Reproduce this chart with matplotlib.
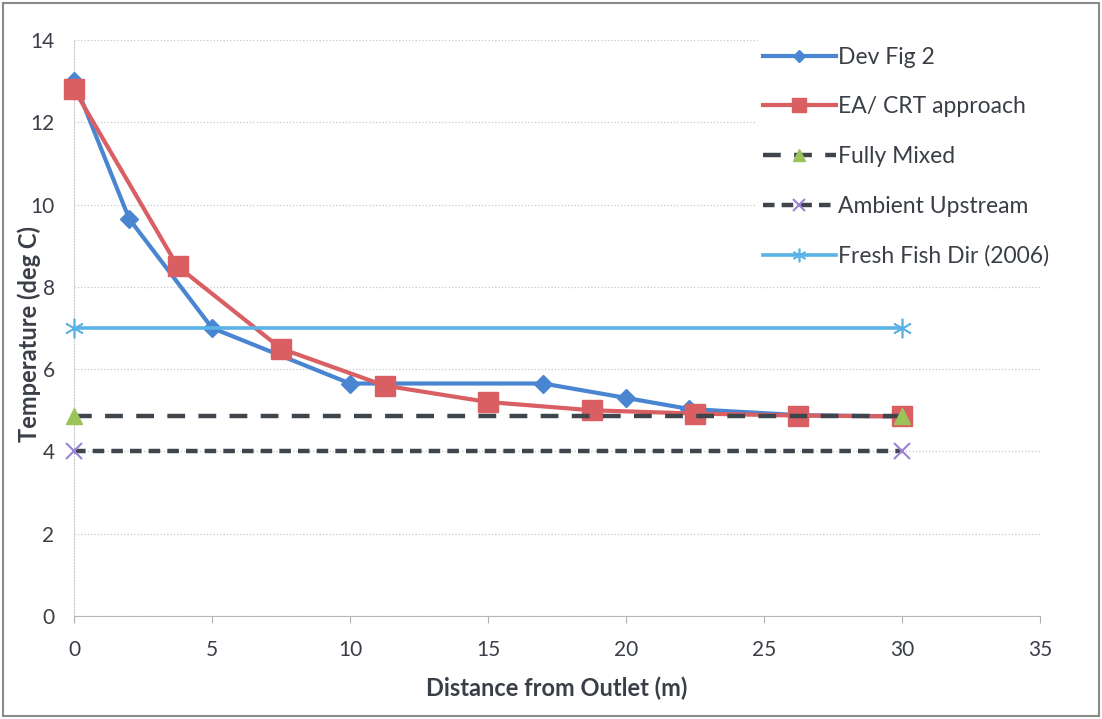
import matplotlib.pyplot as plt
from matplotlib.patches import Rectangle

# values
dev_x = [0, 2, 5, 10, 17, 20, 22.3, 26.3, 30]
dev_y = [13.0, 9.65, 7.0, 5.65, 5.65, 5.3, 5.03, 4.88, 4.85]

ea_x = [0, 3.75, 7.5, 11.25, 15, 18.75, 22.5, 26.25, 30]
ea_y = [12.8, 8.5, 6.5, 5.6, 5.2, 5.0, 4.92, 4.87, 4.85]

ref_x = [0, 30]
mixed_y = [4.85, 4.85]
ambient_y = [4.0, 4.0]
fish_y = [7.0, 7.0]

labels = ["Dev Fig 2", "EA/ CRT approach", "Fully Mixed", "Ambient Upstream", "Fresh Fish Dir (2006)"]
x_ticks = [0, 5, 10, 15, 20, 25, 30, 35]
y_ticks = [0, 2, 4, 6, 8, 10, 12, 14]

plt.rcParams['font.family'] = ['Lato', 'DejaVu Sans']

fig = plt.figure(figsize=(11.02, 7.19), dpi=100)
ax = fig.add_axes([0.0672, 0.1433, 0.8765, 0.8011])

dark = '#3f454d'
txt = '#3a3f47'
ax.plot(dev_x, dev_y, color='#4a85d1', lw=3, marker='D', ms=9, label=labels[0], zorder=3)
ax.plot(ea_x, ea_y, color='#d95f63', lw=3, marker='s', ms=14, label=labels[1], zorder=4)
ax.plot(ref_x, mixed_y, color=dark, lw=3.2, ls=(0, (4, 3)), marker='^', ms=12,
        mfc='#9bc35a', mec='#9bc35a', label=labels[2], zorder=5)
ax.plot(ref_x, ambient_y, color=dark, lw=3.2, ls=(0, (2.6, 1.6)), marker='x', ms=12,
        mew=1.5, mec='#9a84d6', label=labels[3], zorder=5)
ax.plot(ref_x, fish_y, color='#5ab2e6', lw=2.6, marker=(6, 2, 0), ms=14,
        mew=1.2, mec='#5ab2e6', label=labels[4], zorder=5)

ax.set_xlim(0, 35)
ax.set_ylim(0, 14)
ax.set_xticks(x_ticks)
ax.set_yticks(y_ticks)
ax.tick_params(axis='both', labelsize=15, colors=txt)
ax.tick_params(axis='y', length=0, pad=14)
ax.tick_params(axis='x', length=5, color='#b0b0b0', pad=12)

ax.grid(axis='y', color='#c8c8c8', ls=':', lw=0.9)
for s in ['top', 'right']:
    ax.spines[s].set_visible(False)
ax.spines['bottom'].set_color('#b8b8b8')
ax.spines['left'].set_color('#c8c8c8')
ax.spines['left'].set_linestyle(':')
ax.set_axisbelow(True)
for ln in ax.lines:
    ln.set_clip_on(False)

ax.set_xlabel("Distance from Outlet (m)", fontsize=17, fontweight='bold', color=txt, labelpad=12)
ax.set_ylabel("Temperature (deg C)", fontsize=17, fontweight='bold', color=txt)
ax.yaxis.set_label_coords(-0.034, 0.49)

leg = ax.legend(loc='upper left', bbox_to_anchor=(0.694, 1.02), frameon=True, fontsize=16.5,
                handlelength=3.2, handletextpad=0.1, labelspacing=1.25, borderpad=0.3,
                markerscale=0.7, labelcolor=txt)
leg.get_frame().set_edgecolor('none')
leg.get_frame().set_facecolor('white')
leg.get_frame().set_alpha(1)

fig.patches.append(Rectangle((0.003, 0.004), 0.994, 0.992, transform=fig.transFigure,
                             fill=False, edgecolor='#8a8a8a', lw=1.5))

fig.savefig("out.png", dpi=100)
